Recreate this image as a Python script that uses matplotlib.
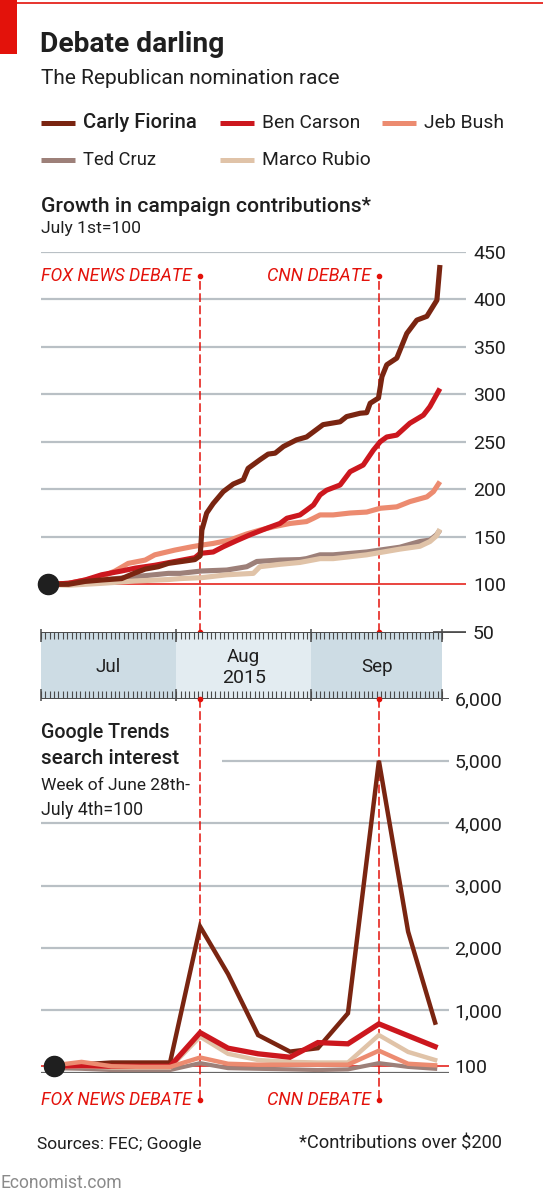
import matplotlib
matplotlib.use("Agg")
import matplotlib.pyplot as plt
from matplotlib.lines import Line2D
from matplotlib.patches import Rectangle
import numpy as np

plt.rcParams['font.family'] = ['Roboto', 'DejaVu Sans']

# Datos: dias desde el 1 de julio de 2015
carly_day = [1.5, 6.3, 10.1, 13.9, 18.5, 21.6, 23.9, 26.9, 29.2, 32.3, 35.3, 36.5, 36.9, 38.0, 39.5,
             41.8, 44.1, 46.4, 47.5, 50.2, 52.1, 53.7, 55.6, 58.6, 60.9, 64.7, 68.6, 70.1, 73.2,
             74.7, 75.5, 77.4, 78.2, 79.3, 81.6, 83.9, 86.2, 88.5, 90.8, 91.5]
carly_val = [100, 100, 103, 104.5, 106, 112, 116, 118.5, 122, 124, 126, 130, 157, 175, 185,
             197.5, 205.5, 210, 222, 231, 237, 238, 245, 252, 255, 268, 271, 276.5, 280,
             280.6, 290.5, 296, 318.5, 331, 338, 364, 378, 382, 399, 436]

carson_day = [1.5, 6.3, 10.1, 13.9, 18.5, 21.6, 26.1, 30.7, 35.3, 36.5, 39.5, 41.8, 44.9, 47.9,
              51.8, 54.8, 56.4, 59.4, 60.9, 62.5, 64.0, 65.5, 68.6, 70.9, 73.9, 76.2, 77.8, 79.3,
              81.6, 84.6, 87.7, 89.2, 91.5]
carson_val = [100, 101, 104.5, 110, 114, 117, 120, 124, 128, 132.5, 134, 139.5, 146, 152,
              159, 164, 169.5, 173, 178, 183.5, 194, 199, 204.5, 218.5, 225.5, 241, 250, 255,
              257, 269.5, 278, 287, 306]

bush_day = [1.5, 6.3, 13.9, 17.0, 20.0, 23.9, 26.1, 30.7, 34.6, 36.5, 39.5, 43.3, 47.2, 50.2,
            53.3, 57.1, 60.9, 62.5, 64.0, 67.0, 70.9, 74.7, 77.8, 81.6, 84.6, 88.5, 90.0, 91.5]
bush_val = [100, 101, 108, 114, 122, 125.5, 131, 136, 139.5, 141, 143, 146.5, 153, 157,
            160.5, 164, 166, 169.5, 173, 173, 175, 176, 180, 181.5, 187, 192, 197.5, 208]

cruz_day = [1.5, 6.3, 13.9, 21.6, 29.2, 31.9, 36.9, 42.6, 47.2, 49.5, 54.8, 59.4, 60.9, 64.0,
            67.0, 74.7, 82.3, 86.9, 89.2, 90.7, 91.5]
cruz_val = [100, 101, 104.5, 108, 111.5, 111.5, 114, 115, 118.5, 124, 125.5, 126, 127, 131,
            131, 134, 139, 145, 146.5, 152, 157]

rubio_day = [1.5, 6.3, 13.9, 21.6, 29.2, 31.9, 36.9, 42.6, 48.7, 50.2, 54.8, 59.4, 64.0, 67.0,
             74.7, 82.3, 86.9, 89.2, 90.7, 91.5]
rubio_val = [100, 99, 101, 103.5, 105, 106, 107, 110, 111.5, 118.5, 121, 123, 127, 127,
             131, 137, 140, 145, 151, 158]

# Google Trends, semanal
week_day = [3.0, 9.3, 16.2, 22.9, 29.6, 36.5, 42.9, 49.8, 57.1, 63.5, 70.4, 77.5, 84.2, 90.4]
carly_w = [100, 130, 160, 160, 160, 2340, 1580, 600, 335, 390, 950, 5000, 2260, 800]
carson_w = [100, 110, 100, 100, 100, 640, 390, 300, 245, 480, 460, 780, 590, 415]
bush_w = [115, 170, 100, 90, 90, 240, 140, 125, 125, 125, 125, 350, 140, 115]
cruz_w = [70, 60, 40, 40, 40, 150, 70, 60, 50, 40, 50, 150, 90, 60]
rubio_w = [90, 100, 80, 80, 80, 575, 300, 200, 170, 160, 160, 600, 330, 200]

top_ticks = [450, 400, 350, 300, 250, 200, 150, 100, 50]
bottom_ticks = [6000, 5000, 4000, 3000, 2000, 1000, 100]
bottom_labels = ['6,000', '5,000', '4,000', '3,000', '2,000', '1,000', '100']
months = ['Jul', 'Aug', 'Sep']
month_start = [0, 31, 62]
month_end = [31, 62, 92]
debates = {'FOX NEWS DEBATE': 36.5, 'CNN DEBATE': 77.5}

RED = '#e3120b'
GRID = '#b9c0c5'
TEXT = '#1f1f1f'
colors = {
    'Carly Fiorina': '#7a2511',
    'Ben Carson': '#cc171e',
    'Jeb Bush': '#ec8b70',
    'Ted Cruz': '#9d8079',
    'Marco Rubio': '#e0c3a8',
}

W, H = 543, 1200
fig = plt.figure(figsize=(W / 100, H / 100), dpi=100)
fig.patch.set_facecolor('white')
renderer = fig.canvas.get_renderer()


def fx(x):
    return x / W


def fy(y):
    return 1 - y / H


def fit_text(x, y, s, width, **kw):
    # ajusta el tamano de letra al ancho medido en la referencia
    t = fig.text(fx(x), fy(y), s, va='center', **kw)
    w = t.get_window_extent(renderer).width
    t.set_fontsize(t.get_fontsize() * width / w)
    return t


def px_axes(x0, y0, x1, y1):
    ax = fig.add_axes([fx(x0), fy(y1), (x1 - x0) / W, (y1 - y0) / H])
    for s in ax.spines.values():
        s.set_visible(False)
    ax.set_xticks([])
    ax.patch.set_alpha(0)
    return ax


PX_DAY = 4.36
X0 = 41
XMAX = (466 - X0) / PX_DAY
XMAX_B = (449 - X0) / PX_DAY

# Cabecera
fig.add_artist(Rectangle((0, fy(54)), fx(16.6), fy(0) - fy(54), color=RED, lw=0))
fig.add_artist(Line2D([0, 1], [fy(2.5), fy(2.5)], color=RED, lw=1.2))
fit_text(40, 45, 'Debate darling', 184, fontsize=20, fontweight='bold', color=TEXT)
fit_text(41, 79, 'The Republican nomination race', 300, fontsize=15, color=TEXT)

legend_pos = [('Carly Fiorina', 41, 123, 114), ('Ben Carson', 220, 123, 98),
              ('Jeb Bush', 382, 123, 80), ('Ted Cruz', 41, 160, 73),
              ('Marco Rubio', 220, 160, 109)]
for name, lx, ly, wd in legend_pos:
    fig.add_artist(Line2D([fx(lx), fx(lx + 34)], [fy(ly), fy(ly)], color=colors[name], lw=3.6,
                          solid_capstyle='butt'))
    fit_text(lx + 42, ly, name, wd, fontsize=15, color=TEXT,
             fontweight='medium' if name == 'Carly Fiorina' else 'normal')

fit_text(41, 206, 'Growth in campaign contributions*', 331, fontsize=15, fontweight='medium',
         color=TEXT)
fit_text(41, 229, 'July 1st=100', 99, fontsize=12, color=TEXT)

# Grafico superior
top = px_axes(X0, 251.7, 466, 631.8)
top.set_xlim(0, XMAX)
top.set_ylim(50, 450)
top.yaxis.tick_right()
top.set_yticks(top_ticks)
top.set_yticklabels([str(t) for t in top_ticks])
top.tick_params(axis='y', length=0, pad=5, labelsize=14, labelcolor=TEXT)
top.hlines([t for t in top_ticks if t > 100], 0, XMAX, color=GRID, lw=1.6, zorder=1)
top.hlines(100, 0, XMAX, color=RED, lw=1.1, zorder=1)
top.hlines(50, 90, XMAX, color='#555555', lw=1.3, zorder=1)

series = [('Ted Cruz', cruz_day, cruz_val), ('Marco Rubio', rubio_day, rubio_val),
          ('Jeb Bush', bush_day, bush_val), ('Ben Carson', carson_day, carson_val),
          ('Carly Fiorina', carly_day, carly_val)]
for i, (name, d, v) in enumerate(series):
    top.plot(d, v, color=colors[name], lw=3.7, zorder=3 + i, solid_joinstyle='round',
             solid_capstyle='butt')
top.plot([carly_day[0]], [carly_val[0]], 'o', color='#1f1f1f', ms=14.5, zorder=10, clip_on=False)

debate_width = {'FOX NEWS DEBATE': 151, 'CNN DEBATE': 104}
top_text_val = 100 + (584.3 - 276) / 0.95
for label, d in debates.items():
    top.plot([d, d], [50, top_text_val], color=RED, lw=1.1, ls=(0, (5.7, 2.3)), zorder=2)
    top.plot([d, d], [top_text_val, 50], 'o', color=RED, ms=3, zorder=2, clip_on=False)
    x_right = X0 + d * PX_DAY - 8
    fit_text(x_right, 276, label, debate_width[label], fontsize=15, style='italic', color=RED,
             ha='right')

# Banda de meses
band = px_axes(X0, 632, 466, 698.5)
band.set_xlim(0, XMAX)
band.set_ylim(0, 1)
band.set_yticks([])
band_colors = ['#cddce4', '#e3ecf1', '#cddce4']
for s, e, c, m in zip(month_start, month_end, band_colors, months):
    band.axvspan(s, e, color=c, lw=0)
    ym = 0.62 if m == 'Aug' else 0.48
    band.text((s + e) / 2, ym, m, ha='center', va='center', fontsize=13.5, color=TEXT)
band.text((month_start[1] + month_end[1]) / 2, 0.31, '2015', ha='center', va='center',
          fontsize=14, color=TEXT)
band.hlines(1, 0, XMAX, color='#4a4a4a', lw=1.4)
band.hlines(0, 0, XMAX_B, color='#4a4a4a', lw=1.4)
days = np.arange(0, 93)
band.vlines(days, 0.89, 1, color='#4a4a4a', lw=0.8)
band.vlines(days, 0, 0.11, color='#4a4a4a', lw=0.8)
band.vlines([0, 31, 62, 92], 0.85, 1.04, color='#4a4a4a', lw=1.1, clip_on=False)
band.vlines([0, 31, 62, 92], -0.04, 0.15, color='#4a4a4a', lw=1.1, clip_on=False)

# Grafico inferior
bot = px_axes(X0, 698.5, 449, 1072.5)
bot.set_xlim(0, XMAX_B)
bot.set_ylim(0, 6000)
bot.yaxis.tick_right()
bot.set_yticks(bottom_ticks)
bot.set_yticklabels(bottom_labels)
bot.tick_params(axis='y', length=0, pad=4, labelsize=14, labelcolor=TEXT)
bot.hlines([4000, 3000, 2000, 1000], 0, XMAX_B, color=GRID, lw=1.6, zorder=1)
bot.hlines(5000, (221.6 - X0) / PX_DAY, XMAX_B, color=GRID, lw=1.6, zorder=1)
bot.hlines(0, 0, XMAX_B, color='#666666', lw=1.6, zorder=1)
bot.hlines(100, 0, XMAX_B, color=RED, lw=1.1, zorder=1)

series_w = [('Ted Cruz', cruz_w, 3.0), ('Carly Fiorina', carly_w, 3.2), ('Marco Rubio', rubio_w, 3.2),
            ('Ben Carson', carson_w, 3.8), ('Jeb Bush', bush_w, 3.2)]
for i, (name, v, lw) in enumerate(series_w):
    bot.plot(week_day, v, color=colors[name], lw=lw, zorder=3 + i, solid_joinstyle='miter')
bot.plot([week_day[0]], [100], 'o', color='#1f1f1f', ms=14.5, zorder=10, clip_on=False)

bot_text_val = (1072.5 - 1100) / 0.0623
for label, d in debates.items():
    bot.plot([d, d], [6000, bot_text_val], color=RED, lw=1.1, ls=(0, (5.7, 2.3)), zorder=2,
             clip_on=False)
    bot.plot([d, d], [6000, bot_text_val], 'o', color=RED, ms=3, zorder=2, clip_on=False)
    x_right = X0 + d * PX_DAY - 8
    fit_text(x_right, 1100, label, debate_width[label], fontsize=15, style='italic', color=RED,
             ha='right')

fit_text(41, 732, 'Google Trends', 129, fontsize=15, fontweight='medium', color=TEXT)
fit_text(41, 759, 'search interest', 138, fontsize=15, fontweight='medium', color=TEXT)
fit_text(41, 786, 'Week of June 28th-', 149, fontsize=12, color=TEXT)
fit_text(41, 810, 'July 4th=100', 101, fontsize=12, color=TEXT)

# Pie
fit_text(37, 1144, 'Sources: FEC; Google', 165, fontsize=13, color=TEXT)
fit_text(502, 1144, '*Contributions over $200', 202, fontsize=13, color=TEXT, ha='right')
fit_text(1, 1183, 'Economist.com', 122, fontsize=13, color='#8a8a8a')

fig.savefig('out.png', dpi=100, facecolor='white')
plt.close(fig)
